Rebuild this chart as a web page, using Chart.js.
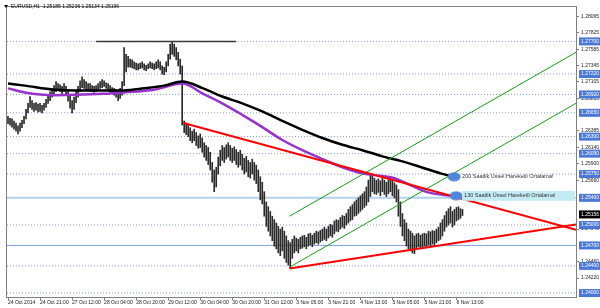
<!DOCTYPE html>
<html>
<head>
<meta charset="utf-8">
<script src="https://cdn.jsdelivr.net/npm/chart.js@4/dist/chart.umd.min.js"></script>
<style>
  html, body { margin: 0; padding: 0; background: #fff; }
  #wrap { width: 600px; height: 308px; }
</style>
</head>
<body>
<div id="wrap"><canvas id="chart" width="600" height="308"></canvas></div>
<script>
// EURUSD H1, one entry per hourly bar (index 0 = 24 Oct 2014)
const highs = [
  1.2660, 1.2657, 1.2656, 1.2653, 1.2650, 1.2646, 1.2650, 1.2654, 1.2660, 1.2670,
  1.2679, 1.2689, 1.2683, 1.2679, 1.2680, 1.2678, 1.2679, 1.2676, 1.2679, 1.2685,
  1.2691, 1.2696, 1.2699, 1.2705, 1.2711, 1.2708, 1.2706, 1.2704, 1.2708, 1.2704,
  1.2698, 1.2691, 1.2683, 1.2688, 1.2696, 1.2704, 1.2712, 1.2718, 1.2714, 1.2711,
  1.2708, 1.2708, 1.2705, 1.2704, 1.2705, 1.2708, 1.2711, 1.2714, 1.2712, 1.2709,
  1.2708, 1.2705, 1.2702, 1.2701, 1.2699, 1.2696, 1.2701, 1.2711, 1.2761, 1.2751,
  1.2748, 1.2744, 1.2743, 1.2740, 1.2738, 1.2737, 1.2738, 1.2740, 1.2737, 1.2735,
  1.2737, 1.2740, 1.2738, 1.2737, 1.2740, 1.2743, 1.2740, 1.2734, 1.2732, 1.2740,
  1.2751, 1.2766, 1.2770, 1.2766, 1.2761, 1.2754, 1.2744, 1.2734, 1.2653, 1.2650,
  1.2647, 1.2643, 1.2638, 1.2641, 1.2636, 1.2631, 1.2634, 1.2628, 1.2621, 1.2617,
  1.2614, 1.2607, 1.2592, 1.2581, 1.2585, 1.2600, 1.2610, 1.2617, 1.2614, 1.2618,
  1.2621, 1.2617, 1.2613, 1.2615, 1.2611, 1.2607, 1.2610, 1.2604, 1.2598, 1.2601,
  1.2595, 1.2592, 1.2597, 1.2592, 1.2588, 1.2581, 1.2571, 1.2563, 1.2549, 1.2534,
  1.2527, 1.2520, 1.2513, 1.2508, 1.2503, 1.2498, 1.2494, 1.2497, 1.2491, 1.2484,
  1.2477, 1.2474, 1.2479, 1.2484, 1.2481, 1.2479, 1.2482, 1.2484, 1.2485, 1.2482,
  1.2487, 1.2488, 1.2485, 1.2488, 1.2491, 1.2490, 1.2492, 1.2494, 1.2497, 1.2494,
  1.2498, 1.2501, 1.2500, 1.2506, 1.2508, 1.2507, 1.2511, 1.2514, 1.2513, 1.2517,
  1.2523, 1.2527, 1.2530, 1.2534, 1.2537, 1.2540, 1.2543, 1.2546, 1.2549, 1.2556,
  1.2566, 1.2575, 1.2572, 1.2569, 1.2566, 1.2568, 1.2565, 1.2569, 1.2566, 1.2563,
  1.2566, 1.2568, 1.2565, 1.2562, 1.2559, 1.2552, 1.2534, 1.2517, 1.2508, 1.2503,
  1.2494, 1.2491, 1.2488, 1.2484, 1.2487, 1.2488, 1.2485, 1.2487, 1.2488, 1.2487,
  1.2491, 1.2490, 1.2492, 1.2491, 1.2494, 1.2497, 1.2503, 1.2508, 1.2514, 1.2520,
  1.2524, 1.2527, 1.2520, 1.2523, 1.2526, 1.2527, 1.2524, 1.2523
];
const lows = [
  1.2649, 1.2647, 1.2644, 1.2641, 1.2638, 1.2634, 1.2638, 1.2643, 1.2649, 1.2656,
  1.2665, 1.2673, 1.2670, 1.2667, 1.2669, 1.2666, 1.2667, 1.2665, 1.2669, 1.2673,
  1.2679, 1.2683, 1.2688, 1.2692, 1.2696, 1.2698, 1.2696, 1.2693, 1.2696, 1.2691,
  1.2682, 1.2672, 1.2665, 1.2670, 1.2680, 1.2688, 1.2696, 1.2702, 1.2701, 1.2699,
  1.2698, 1.2696, 1.2696, 1.2695, 1.2696, 1.2698, 1.2701, 1.2702, 1.2704, 1.2701,
  1.2698, 1.2695, 1.2693, 1.2691, 1.2688, 1.2683, 1.2686, 1.2691, 1.2705, 1.2725,
  1.2732, 1.2732, 1.2731, 1.2730, 1.2728, 1.2728, 1.2730, 1.2731, 1.2728, 1.2727,
  1.2730, 1.2731, 1.2730, 1.2728, 1.2730, 1.2731, 1.2728, 1.2722, 1.2721, 1.2725,
  1.2734, 1.2744, 1.2751, 1.2748, 1.2743, 1.2734, 1.2722, 1.2647, 1.2636, 1.2633,
  1.2630, 1.2624, 1.2621, 1.2624, 1.2617, 1.2613, 1.2614, 1.2607, 1.2600, 1.2595,
  1.2589, 1.2581, 1.2563, 1.2549, 1.2556, 1.2575, 1.2587, 1.2595, 1.2592, 1.2597,
  1.2600, 1.2595, 1.2592, 1.2595, 1.2589, 1.2585, 1.2588, 1.2581, 1.2575, 1.2578,
  1.2571, 1.2569, 1.2575, 1.2566, 1.2561, 1.2549, 1.2537, 1.2531, 1.2513, 1.2498,
  1.2491, 1.2484, 1.2477, 1.2469, 1.2465, 1.2459, 1.2455, 1.2462, 1.2451, 1.2445,
  1.2441, 1.2436, 1.2451, 1.2459, 1.2462, 1.2459, 1.2465, 1.2466, 1.2468, 1.2465,
  1.2469, 1.2471, 1.2468, 1.2472, 1.2474, 1.2472, 1.2475, 1.2477, 1.2479, 1.2477,
  1.2481, 1.2484, 1.2482, 1.2487, 1.2491, 1.2490, 1.2494, 1.2497, 1.2495, 1.2500,
  1.2503, 1.2506, 1.2508, 1.2513, 1.2514, 1.2517, 1.2520, 1.2523, 1.2526, 1.2529,
  1.2534, 1.2542, 1.2549, 1.2546, 1.2545, 1.2548, 1.2543, 1.2549, 1.2545, 1.2542,
  1.2546, 1.2549, 1.2543, 1.2540, 1.2534, 1.2513, 1.2498, 1.2484, 1.2477, 1.2469,
  1.2465, 1.2462, 1.2459, 1.2458, 1.2465, 1.2468, 1.2465, 1.2468, 1.2469, 1.2468,
  1.2471, 1.2469, 1.2472, 1.2471, 1.2474, 1.2477, 1.2479, 1.2484, 1.2491, 1.2497,
  1.2500, 1.2503, 1.2497, 1.2500, 1.2506, 1.2508, 1.2510, 1.2514
];

// moving averages: [bar index, price]
const ema200 = [
  [0, 1.2708], [8.4, 1.2705], [23.3, 1.2699], [38, 1.2698], [48, 1.2698], [58, 1.2698],
  [68, 1.2701], [78, 1.2705], [87, 1.2711], [97.5, 1.2701], [107, 1.2689], [117, 1.2679],
  [127, 1.2667], [137, 1.2653], [147, 1.2640], [157, 1.2628], [167, 1.2618], [177, 1.2610],
  [187, 1.2601], [196.5, 1.2594], [206.4, 1.2585], [216, 1.2576], [223, 1.2571]
];
const ema130 = [
  [0, 1.2701], [8.4, 1.2695], [23, 1.2691], [48, 1.2693], [58, 1.2695], [73, 1.2699],
  [87, 1.2708], [97.5, 1.2693], [107, 1.2679], [117, 1.2662], [127, 1.2644], [137, 1.2625],
  [147, 1.2610], [157, 1.2597], [167, 1.2585], [177, 1.2576], [187, 1.2572], [193, 1.2569],
  [201.5, 1.2558], [210, 1.2548], [221, 1.2543], [224, 1.2542]
];

// drawn objects
const redTop = [[87.6, 1.2650], [283.7, 1.2493]];
const redBottom = [[140.6, 1.2436], [283.7, 1.2501]];
const greenLower = [[140.6, 1.2438], [283.7, 1.2679]];
const greenUpper = [[140.6, 1.2513], [283.7, 1.2754]];
const resistance = [[44, 1.2770], [114, 1.2770]];
const dottedLevels = [1.2770, 1.2722, 1.2692, 1.2665, 1.2630, 1.2605, 1.2575, 1.2500, 1.2440, 1.2400];
const solidLevels = [1.2540, 1.2470];
const currentPrice = 1.25156;

const priceTicks = [1.28065, 1.27825, 1.27585, 1.27345, 1.27105, 1.26865, 1.26385,
  1.26140, 1.25900, 1.25660, 1.24940, 1.24460, 1.24220];
const levelLabels = [1.27700, 1.27220, 1.26920, 1.26650, 1.26300, 1.26050, 1.25750,
  1.25400, 1.25000, 1.24700, 1.24400, 1.24000];
const timeTickIndex = [0, 16, 32, 48, 64, 80, 96, 112, 128, 144, 160, 176, 192, 208, 224];
const timeTickLabels = ['24 Oct 2014', '24 Oct 21:00', '27 Oct 12:00', '28 Oct 04:00',
  '28 Oct 20:00', '29 Oct 12:00', '30 Oct 04:00', '30 Oct 20:00', '31 Oct 12:00',
  '3 Nov 05:00', '3 Nov 21:00', '4 Nov 13:00', '5 Nov 05:00', '5 Nov 21:00', '6 Nov 13:00'];

const maNotes = [
  { text: '200 Saatlik Üssel Hareketli Ortalama!', at: [222.8, 1.2571], band: false },
  { text: '130 Saatlik Üssel Hareketli Ortalama!', at: [223.8, 1.2543], band: true }
];
const header = 'EURUSD,H1  1.25185 1.25236 1.25134 1.25196';

const FONT = 'Liberation Sans, DejaVu Sans, sans-serif';
const xMin = -0.5, xMax = 283.7;

const toPts = arr => arr.map(p => ({ x: p[0], y: p[1] }));

function ellipseStyle() {
  const c = document.createElement('canvas');
  c.width = 14; c.height = 10;
  const g = c.getContext('2d');
  g.fillStyle = '#4f86d9';
  g.beginPath();
  g.ellipse(7, 5, 6.5, 4.5, 0, 0, Math.PI * 2);
  g.fill();
  return c;
}

const bars = highs.map((h, i) => ({ x: i, y: [lows[i], h] }));

const levelSets = dottedLevels.map(v => ({
  type: 'line', order: 9,
  data: [{ x: xMin, y: v }, { x: xMax, y: v }],
  borderColor: '#7f9fe6', borderWidth: 1, borderDash: [1, 2], pointRadius: 0
})).concat(solidLevels.map((v, k) => ({
  type: 'line', order: 9,
  data: [{ x: xMin, y: v }, { x: xMax, y: v }],
  borderColor: k === 0 ? '#b3d2f2' : '#7f9fe6', borderWidth: k === 0 ? 2 : 1, pointRadius: 0
})));

const lineSet = (arr, color, width, order, tension) => ({
  type: 'line', order,
  data: toPts(arr),
  borderColor: color, borderWidth: width, pointRadius: 0,
  tension: tension || 0, cubicInterpolationMode: tension ? 'monotone' : 'default'
});

const framePlugin = {
  id: 'frame',
  beforeDraw(chart) {
    const { ctx, chartArea: a } = chart;
    ctx.save();
    ctx.strokeStyle = '#808080';
    ctx.lineWidth = 1;
    ctx.strokeRect(a.left - 0.5, a.top - 0.5, a.right - a.left + 1, a.bottom - a.top + 1);
    ctx.restore();
  },
  afterDatasetsDraw(chart) {
    const { ctx, scales: { x, y } } = chart;
    ctx.save();
    ctx.font = '5.5px ' + FONT;
    ctx.textBaseline = 'middle';
    maNotes.forEach(n => {
      const px = x.getPixelForValue(n.at[0]) + 8;
      const py = y.getPixelForValue(n.at[1]);
      if (n.band) {
        ctx.fillStyle = '#c4ebf4';
        ctx.fillRect(px - 2, py - 5, chart.chartArea.right - px + 1, 10);
      }
      ctx.fillStyle = '#333';
      ctx.fillText(n.text, px, py);
    });
    ctx.restore();
  },
  afterDraw(chart) {
    const { ctx } = chart;
    ctx.save();
    ctx.fillStyle = '#000';
    ctx.beginPath();
    ctx.moveTo(4, 5); ctx.lineTo(8, 5); ctx.lineTo(6, 8); ctx.closePath();
    ctx.fill();
    ctx.font = '5px ' + FONT;
    ctx.textBaseline = 'middle';
    ctx.fillText(header, 11, 6.5);
    ctx.restore();
  }
};

const allYTicks = priceTicks.concat(levelLabels, [currentPrice]);
const isLevel = v => levelLabels.some(l => Math.abs(l - v) < 1e-7);
const isCurrent = v => Math.abs(v - currentPrice) < 1e-7;

// keep the plot area exactly where the terminal draws it
const noPad = s => { s.paddingLeft = 0; s.paddingRight = 0; s.paddingTop = 0; s.paddingBottom = 0; };

new Chart(document.getElementById('chart'), {
  type: 'bar',
  data: {
    datasets: [
      { type: 'scatter', order: 0, data: toPts(maNotes.map(n => n.at)),
        pointStyle: ellipseStyle(), pointRadius: 6 },
      lineSet(redTop, '#ff0000', 2, 1),
      lineSet(redBottom, '#ff0000', 2, 1),
      lineSet(greenLower, '#169b16', 1, 2),
      lineSet(greenUpper, '#169b16', 1, 2),
      lineSet(resistance, '#3a3a3a', 1.5, 3),
      lineSet(ema200, '#000000', 2.5, 4, 0.4),
      lineSet(ema130, '#9932cc', 2.5, 5, 0.4),
      { type: 'bar', order: 6, data: bars, backgroundColor: '#2a2a2a', barThickness: 1,
        grouped: false, borderSkipped: false },
      ...levelSets
    ]
  },
  options: {
    responsive: false,
    animation: false,
    layout: { padding: { left: 2, top: 2, right: 0, bottom: 0 } },
    plugins: { legend: { display: false }, tooltip: { enabled: false } },
    scales: {
      x: {
        type: 'linear', min: xMin, max: xMax, offset: false,
        afterBuildTicks: s => { s.ticks = timeTickIndex.map(v => ({ value: v })); },
        afterFit: s => { s.height = 11; noPad(s); },
        grid: { drawOnChartArea: false, tickLength: 3, color: '#808080', offset: false },
        border: { display: false },
        ticks: {
          autoSkip: false, maxRotation: 0, align: 'start', padding: 0,
          color: '#222', font: { family: FONT, size: 5 },
          callback: v => timeTickLabels[timeTickIndex.indexOf(v)]
        }
      },
      y: {
        position: 'right', min: 1.23942, max: 1.28206,
        afterBuildTicks: s => { s.ticks = allYTicks.map(v => ({ value: v })); },
        afterFit: s => { s.width = 24; noPad(s); },
        grid: { drawOnChartArea: false, tickLength: 3,
          color: c => (c.tick && (isLevel(c.tick.value) || isCurrent(c.tick.value))) ? 'rgba(0,0,0,0)' : '#808080' },
        border: { display: false },
        ticks: {
          autoSkip: false, padding: 2,
          font: { family: FONT, size: 5 },
          color: c => (isLevel(c.tick.value) || isCurrent(c.tick.value)) ? '#fff' : '#222',
          showLabelBackdrop: c => isLevel(c.tick.value) || isCurrent(c.tick.value),
          backdropColor: c => isCurrent(c.tick.value) ? '#000' : '#4a78d8',
          backdropPadding: { x: 2, y: 1 },
          callback: v => v.toFixed(5)
        }
      }
    }
  },
  plugins: [framePlugin]
});
</script>
</body>
</html>
